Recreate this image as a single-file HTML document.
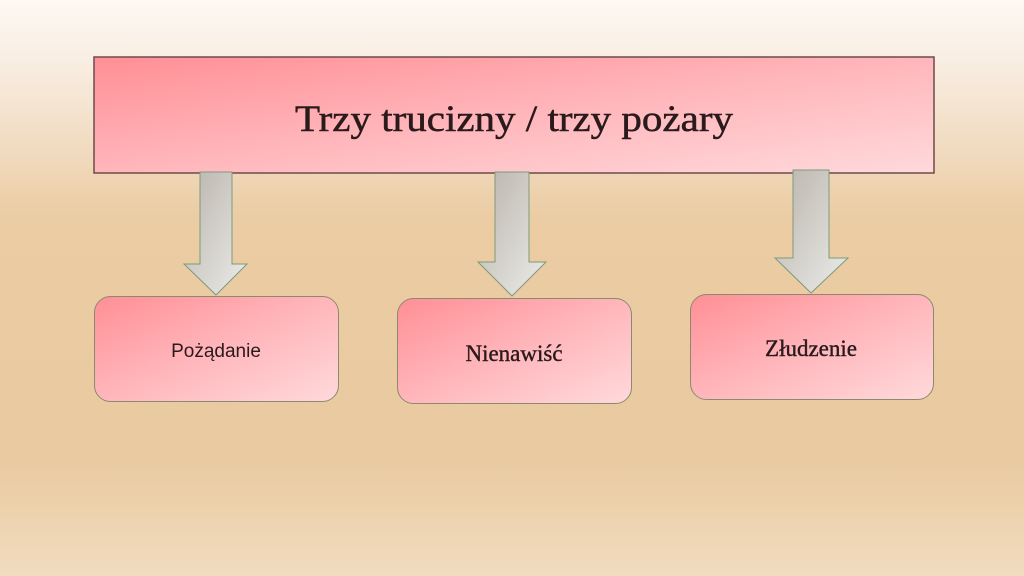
<!DOCTYPE html>
<html><head><meta charset="utf-8"><style>
html,body{margin:0;padding:0;width:1024px;height:576px;overflow:hidden}
</style></head><body>
<svg width="1024" height="576" viewBox="0 0 1024 576" xmlns="http://www.w3.org/2000/svg">
<defs>
<linearGradient id="bg" x1="0" y1="0" x2="0" y2="1">
<stop offset="0" stop-color="#fdf8f3"/>
<stop offset="0.12" stop-color="#f8ece0"/>
<stop offset="0.38" stop-color="#ebcca3"/>
<stop offset="0.8" stop-color="#eacaa0"/>
<stop offset="1" stop-color="#f1dcbf"/>
</linearGradient>
<linearGradient id="pk" x1="0" y1="0" x2="1" y2="1">
<stop offset="0" stop-color="#ff8f95"/>
<stop offset="0.5" stop-color="#ffb6bb"/>
<stop offset="1" stop-color="#ffd9db"/>
</linearGradient>
<linearGradient id="ar" x1="0" y1="0" x2="1" y2="1">
<stop offset="0" stop-color="#b9b3aa"/>
<stop offset="1" stop-color="#ececea"/>
</linearGradient>
</defs>
<rect width="1024" height="576" fill="url(#bg)"/>
<rect x="94" y="57" width="840" height="116" fill="url(#pk)" stroke="#6e4a4a" stroke-width="1.5"/>
<text x="514" y="131" text-anchor="middle" font-family="Liberation Serif, serif" font-size="37" fill="#2a1a1c" stroke="#2a1a1c" stroke-width="0.5" textLength="438" lengthAdjust="spacingAndGlyphs">Trzy trucizny / trzy pożary</text>

<path d="M200 172 H232 V264 H247 L216 295 L184 264 H200 Z" fill="url(#ar)" stroke="#7c9a7e" stroke-width="1"/>
<path d="M495 172 H529 V262 H546 L512 296 L478 262 H495 Z" fill="url(#ar)" stroke="#7c9a7e" stroke-width="1"/>
<path d="M793 170 H829 V258 H848 L811 293 L775 258 H793 Z" fill="url(#ar)" stroke="#7c9a7e" stroke-width="1"/>

<rect x="94.5" y="296.5" width="244" height="105" rx="16" fill="url(#pk)" stroke="#8a8a70" stroke-width="1"/>
<text x="216" y="357" text-anchor="middle" font-family="Liberation Sans, sans-serif" font-size="19" fill="#2a1a1c">Pożądanie</text>

<rect x="397.5" y="298.5" width="234" height="105" rx="16" fill="url(#pk)" stroke="#8a8a70" stroke-width="1"/>
<text x="514" y="361" text-anchor="middle" font-family="Liberation Serif, serif" font-size="23" fill="#2a1a1c" stroke="#2a1a1c" stroke-width="0.4">Nienawiść</text>

<rect x="690.5" y="294.5" width="243" height="105" rx="16" fill="url(#pk)" stroke="#8a8a70" stroke-width="1"/>
<text x="811" y="356" text-anchor="middle" font-family="Liberation Serif, serif" font-size="23" fill="#2a1a1c" stroke="#2a1a1c" stroke-width="0.4">Złudzenie</text>
</svg>
</body></html>
